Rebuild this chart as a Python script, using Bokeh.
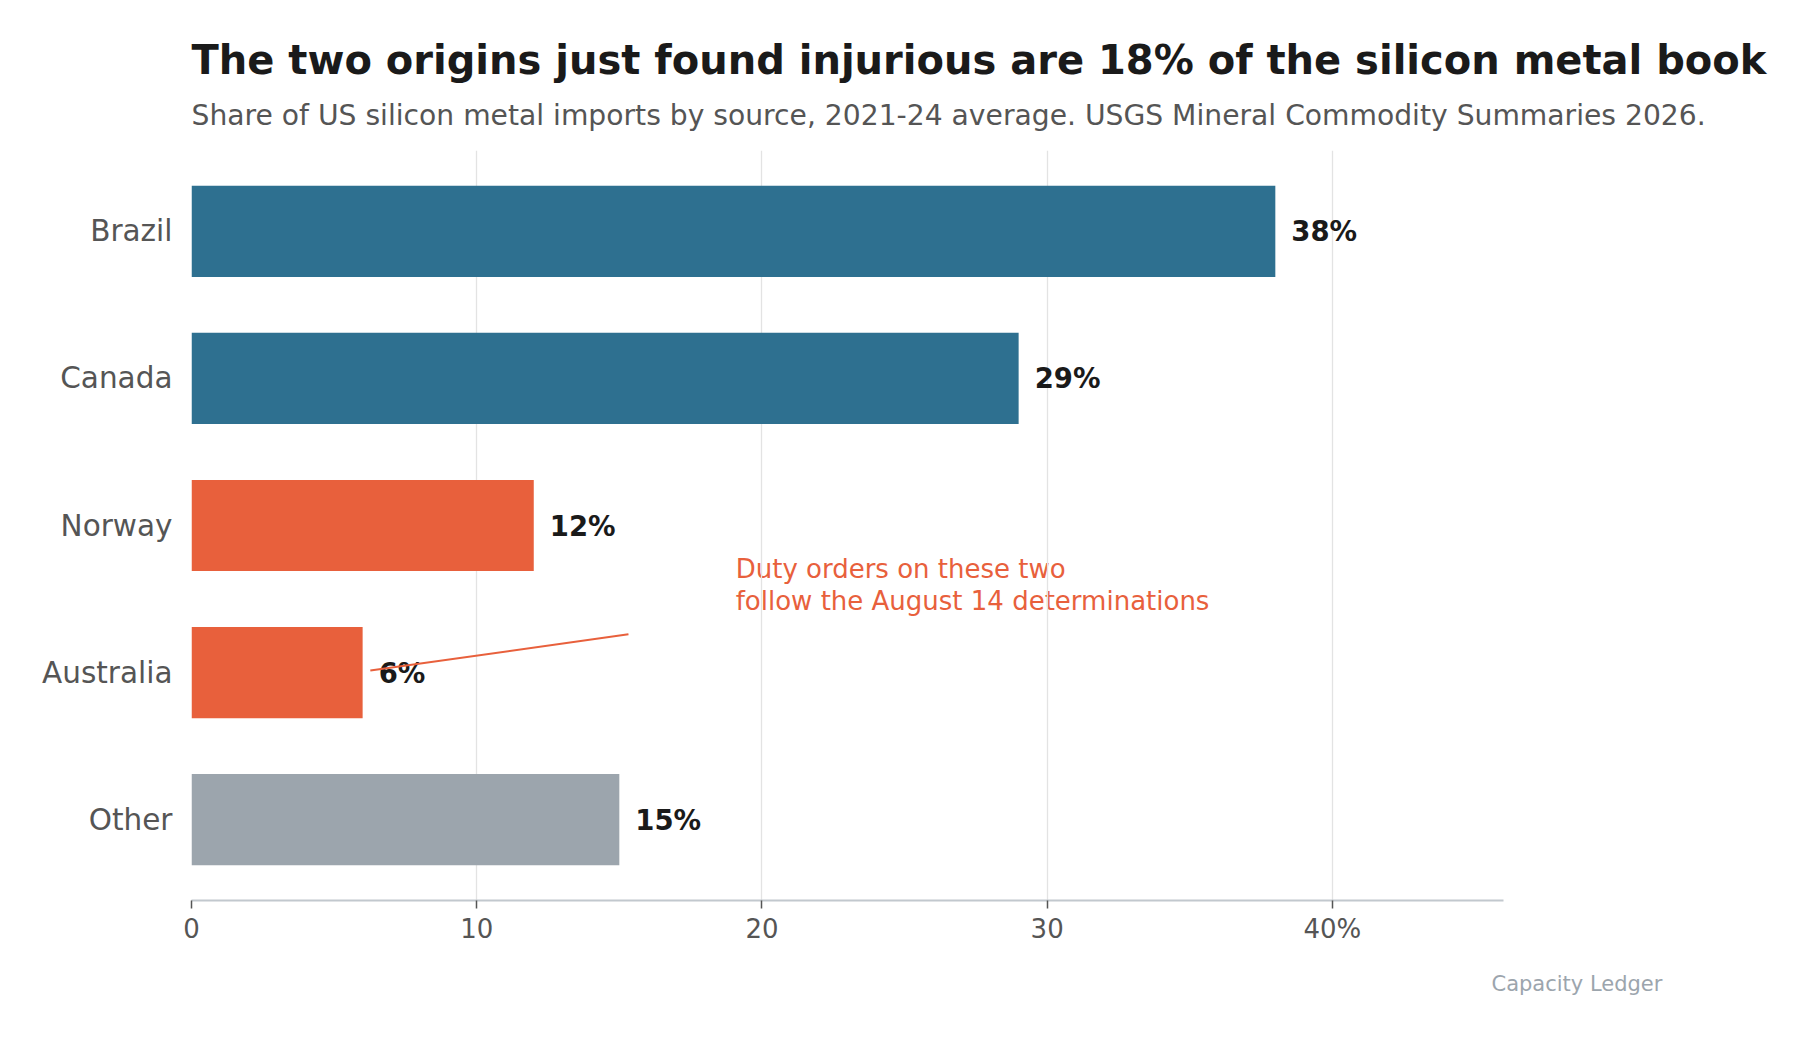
from bokeh.plotting import figure
from bokeh.models import ColumnDataSource, FixedTicker, Range1d, Title
from bokeh.transform import factor_cmap
from bokeh.embed import file_html
from bokeh.resources import INLINE
from bokeh.core.properties import value

categories = ["Brazil", "Canada", "Norway", "Australia", "Other"]
shares = [38, 29, 12, 6, 15]
groups = ["major", "major", "injurious", "injurious", "rest"]
x_ticks = [0, 10, 20, 30, 40]
x_tick_labels = ["0", "10", "20", "30", "40%"]
title_text = "The two origins just found injurious are 18% of the silicon metal book"
subtitle_text = "Share of US silicon metal imports by source, 2021-24 average. USGS Mineral Commodity Summaries 2026."
note_lines = ["Duty orders on these two", "follow the August 14 determinations"]
credit_text = "Capacity Ledger"

FONT = "DejaVu Sans"
BLUE = "#2e7090"
ORANGE = "#e8603c"
GREY = "#9ca5ad"

n = len(categories)
ypos = [n - 1 - i for i in range(n)]
labels = [f"{s}%" for s in shares]
src = ColumnDataSource(dict(cat=categories, share=shares, group=groups, y=ypos, label=labels))

W, H = 1800, 1030
p = figure(width=W, height=H, x_range=Range1d(0, 46), y_range=Range1d(-0.55, n - 1 + 0.55),
           output_backend="svg", toolbar_location=None, title=None,
           min_border_left=191, min_border_right=297, min_border_top=150, min_border_bottom=130)
p.outline_line_color = None
p.background_fill_color = "white"
p.border_fill_color = "white"

# annotation text sits beneath the grid lines
ia = categories.index("Australia")
note = p.text(x=[19.08, 19.08], y=[ypos[ia] + 0.702, ypos[ia] + 0.487], text=note_lines,
              text_baseline="alphabetic", text_align="left", text_font=value(FONT),
              text_font_size="26px", text_color=ORANGE)
note.level = "underlay"

p.hbar(y="y", right="share", left=0, height=0.62, source=src, line_color=None,
       fill_color=factor_cmap("group", palette=[BLUE, ORANGE, GREY], factors=["major", "injurious", "rest"]))

p.text(x="share", y="y", text="label", x_offset=16, text_baseline="middle", text_align="left",
       text_font=value(FONT), text_font_style="bold", text_font_size="27.5px", text_color="#1a1a1a", source=src)

# annotation leader line anchored to the Australia bar
p.line(x=[shares[ia] + 0.27, shares[ia] + 9.32], y=[ypos[ia] + 0.014, ypos[ia] + 0.26],
       line_color=ORANGE, line_width=2)

# axes
xa = p.xaxis[0]
xa.ticker = FixedTicker(ticks=x_ticks)
xa.major_label_overrides = {t: l for t, l in zip(x_ticks, x_tick_labels)}
xa.axis_line_color = "#c2c8ce"
xa.axis_line_width = 2
xa.major_tick_out = 8
xa.major_tick_in = 0
xa.major_tick_line_color = "#555555"
xa.major_tick_line_width = 1.5
xa.minor_tick_line_color = None
xa.major_label_text_font = FONT
xa.major_label_text_font_size = "26px"
xa.major_label_text_color = "#555555"
xa.major_label_standoff = 5

ya = p.yaxis[0]
ya.ticker = FixedTicker(ticks=ypos)
ya.major_label_overrides = {y: c for y, c in zip(ypos, categories)}
ya.axis_line_color = None
ya.major_tick_line_color = None
ya.major_tick_out = 0
ya.major_tick_in = 0
ya.minor_tick_line_color = None
ya.major_label_text_font = FONT
ya.major_label_text_font_size = "29.5px"
ya.major_label_text_color = "#555555"
ya.major_label_standoff = 19

p.ygrid.grid_line_color = None
p.xgrid.ticker = FixedTicker(ticks=x_ticks)
p.xgrid.grid_line_color = "#e3e3e3"
p.xgrid.grid_line_width = 1.3

# titles (first added sits nearest the frame)
p.add_layout(Title(text=subtitle_text, align="left", text_font=FONT, text_font_size="28.2px",
                   text_font_style="normal", text_color="#555555", standoff=37), "above")
p.add_layout(Title(text=title_text, align="left", text_font=FONT, text_font_size="40px",
                   text_font_style="bold", text_color="#1a1a1a", standoff=-8), "above")
p.add_layout(Title(text=credit_text, align="left", offset=1300, text_font=FONT, text_font_size="21px",
                   text_font_style="normal", text_color="#9ca5ad", standoff=46), "below")

open("out.html", "w").write(file_html(p, INLINE))
